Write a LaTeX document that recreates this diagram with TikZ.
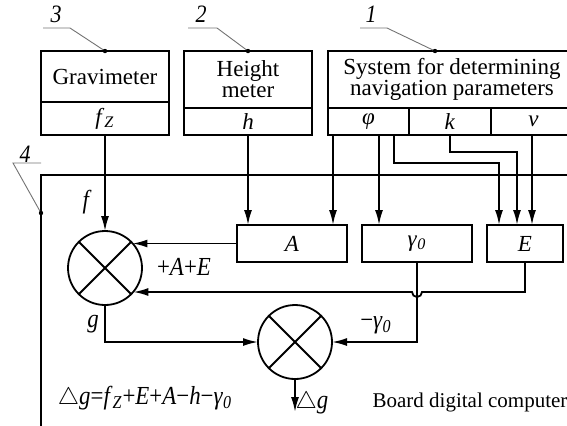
\documentclass[tikz,border=0pt]{standalone}
\usepackage{fontspec}
\setmainfont{Liberation Serif}
\newfontfamily\lblfont{Liberation Serif}[FakeStretch=0.88]
\usetikzlibrary{arrows.meta,positioning,calc}

\begin{document}
\begin{tikzpicture}[
    x=0.5pt, y=-0.5pt,
    box/.style={rectangle, draw, line width=0.9pt, outer sep=0pt, inner sep=0pt, align=center, minimum width=64pt, font=\fontsize{11.5}{10.5}\selectfont},
    cell/.style={box, minimum height=13.5pt},
    block/.style={box, minimum height=18.5pt, minimum width=55pt},
    summ/.style={circle, draw, line width=0.9pt, minimum size=37pt, inner sep=0pt, outer sep=0pt},
    arrow/.style={-{Latex[length=7.5pt,width=4pt]}, line width=0.9pt},
    wire/.style={line width=0.9pt},
    leader/.style={draw=black!55, line width=0.45pt},
    lbl/.style={font=\lblfont\fontsize{13}{14}\selectfont, inner sep=1pt},
    num/.style={font=\lblfont\fontsize{12.5}{13}\selectfont\itshape, inner sep=0pt}
]
\clip (0,0) rectangle (567,425);

% sensors
\node [box, minimum height=25.5pt] (grav) at (105,76.5) {Gravimeter};
\node [box, minimum height=16.5pt, below=0pt of grav] (fz) {\textit{f}\textsubscript{\textit{Z}}};
\node [box, minimum height=28.5pt] (hmeter) at (248,79.5) {Height\\meter};
\node [cell, below=0pt of hmeter] (hcell) {\textit{h}};
\node [box, minimum height=28.5pt, minimum width=124pt] (nav) at (452,79.5) {System for determining\\navigation parameters};
\node [cell, minimum width=40.5pt, below right=0pt of nav.south west] (phi) {\textit{φ}};
\node [cell, minimum width=41pt, right=0pt of phi] (kcell) {\textit{k}};
\node [cell, minimum width=42.5pt, right=0pt of kcell] (vcell) {\textit{v}};

% board computer
\draw [wire] (41,440) -- (41,175) -- (580,175);
\node [block] (bA) at (292,243.5) {\textit{A}};
\node [block] (bG) at (417,243.5) {\textit{γ}\textsubscript{\textit{0}}};
\node [block, minimum width=38pt] (bE) at (525,243.5) {\textit{E}};
\node [summ] (sum1) at (105,268) {};
\node [summ] (sum2) at (295,342) {};
\foreach \s in {sum1,sum2}
    \draw [wire] (\s.north west) -- (\s.south east) (\s.north east) -- (\s.south west);

% inputs
\coordinate (p1) at ($(phi.south west)+(5,0)$);
\coordinate (p2) at ($(phi.south west)+(51,0)$);
\coordinate (p3) at ($(phi.south west)+(66,0)$);
\coordinate (e3) at ($(bE.north west)+(45,0)$);
\draw [arrow] (fz) -- (sum1);
\draw [arrow] (hcell) -- (hcell |- bA.north);
\draw [arrow] (p1) -- (p1 |- bA.north);
\draw [arrow] (p2) -- (p2 |- bG.north);
\draw [arrow] (p3) -- ++(0,28) -| ($(bE.north west)+(12,0)$);
\draw [arrow] (kcell.south) -- ++(0,17) -| ($(bE.north west)+(30,0)$);
\draw [arrow] (e3 |- vcell.south) -- (e3);

% summation
\draw [arrow] (bA.west) -- (bA.west -| sum1.42);
\draw [arrow] (bE.south) -- ++(0,30) coordinate (r1) -- ($(r1 -| bG.south)+(5,0)$)
    arc [start angle=0, end angle=-180, radius=2.5pt] -- (r1 -| sum1.-40);
\draw [arrow] (bG.south) |- (sum2.east);
\draw [arrow] (sum1.south) |- (sum2.west);
\coordinate (dg) at (295,412);
\draw [arrow] (sum2) -- (dg);

% labels
\node [lbl] (lf) at (87,202) {\textit{f}};
\node [lbl] (lg) at (93,324) {\textit{g}};
\node [lbl] (lae) at (184,267) {+\textit{A}+\textit{E}};
\node [lbl] (lmg) at (376,325) {−\textit{γ}\textsubscript{\textit{0}}};
\node [lbl] (ldg) at (312,403) {$\triangle$\textit{g}};
\node [lbl] (form) at (145,398) {$\triangle$\textit{g}=\textit{f}\textsubscript{\textit{Z}}+\textit{E}+\textit{A}−\textit{h}−\textit{γ}\textsubscript{\textit{0}}};
\node [lbl, font=\fontsize{10.5}{12}\selectfont] (board) at (470,402) {Board digital computer};

% leaders
\node [num] (n3) at (56,14) {3};
\node [num] (n2) at (201,14) {2};
\node [num] (n1) at (371,14) {1};
\node [num] (n4) at (25,154) {4};
\coordinate (c3) at (43,28);
\coordinate (c2) at (188,28);
\coordinate (c1) at (360,28);
\coordinate (c4) at (41,163);
\coordinate (f4) at (41,213);
\draw [leader] (c3) -- ++(27,0) -- (grav.north);
\draw [leader] (c2) -- ++(29,0) -- (hmeter.north);
\draw [leader] (c1) -- ++(27,0) -- ($(nav.north)+(-17,0)$);
\draw [leader] (c4) -- ++(-28,0) -- (f4);
\fill (grav.north) circle [radius=1.1pt];
\fill (hmeter.north) circle [radius=1.1pt];
\fill ($(nav.north)+(-17,0)$) circle [radius=1.1pt];
\fill (f4) circle [radius=1.1pt];
\end{tikzpicture}
\end{document}
